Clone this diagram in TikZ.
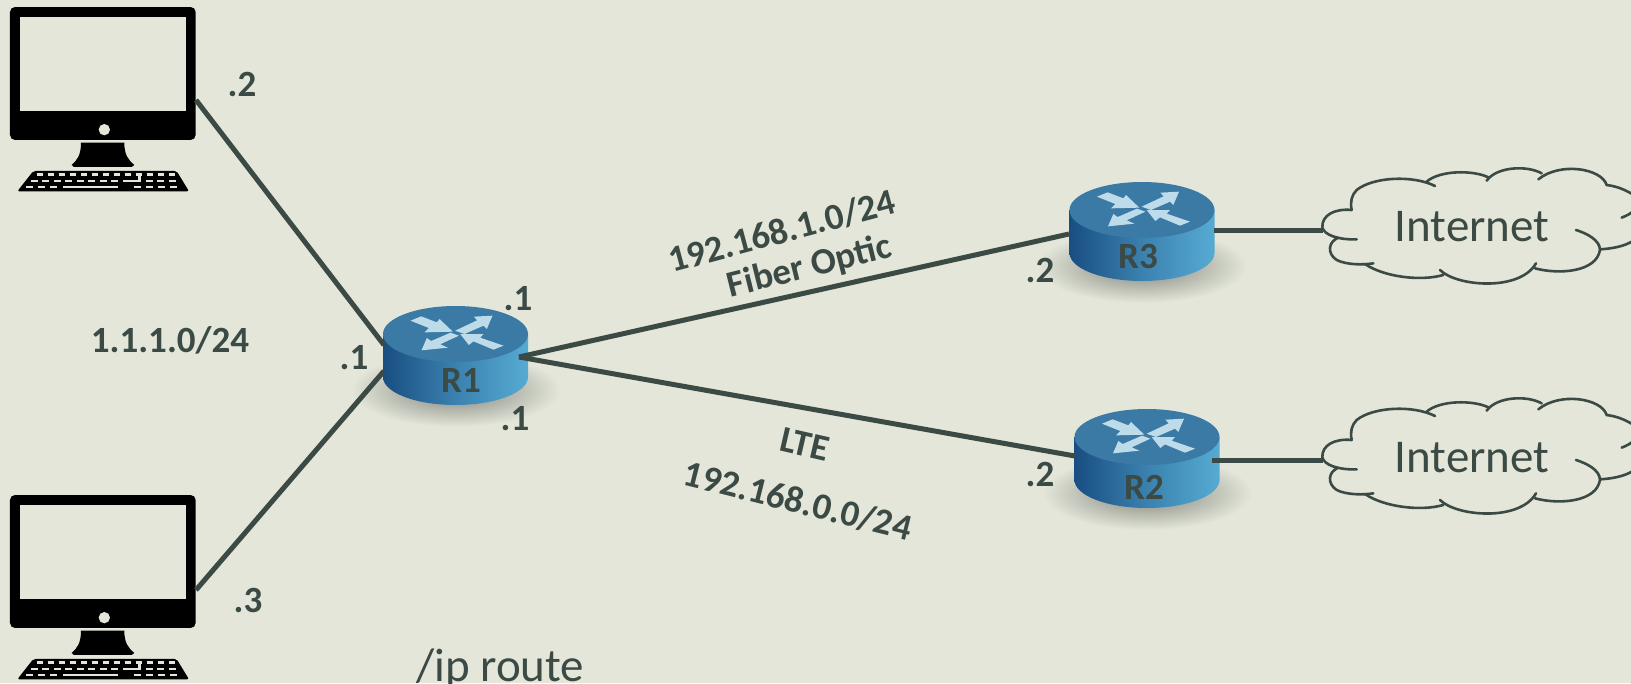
\documentclass[tikz,border=0pt]{standalone}
\usepackage{fontspec}
\setmainfont{Carlito}
\definecolor{bgc}{HTML}{E3E6D9}
\definecolor{inkc}{HTML}{3B4A45}
\definecolor{topc}{HTML}{3B7AA5}
\definecolor{sideL}{HTML}{194E82}
\definecolor{sideR}{HTML}{56ABD3}
\definecolor{arrowc}{HTML}{BEDBEA}
\tikzset{
  wire/.style={draw=inkc,line width=5pt},
  port/.style={inner sep=0pt,outer sep=0pt,minimum size=0pt},
  lbl/.style={text=inkc,font=\fontsize{37}{42}\selectfont\bfseries,inner sep=0pt},
  inet/.style={text=inkc,font=\fontsize{47}{54}\selectfont,inner sep=0pt},
  cloudline/.style={draw=inkc,line width=2.6pt,line cap=round},
  keyline/.style={draw=bgc},
}
\newcommand{\pcicon}[1]{%
\begin{scope}[shift={(0,#1)},x=0.3333pt,y=-0.3333pt]
  \fill[black,rounded corners=5pt] (30,21) rectangle (587,420);
  \fill[bgc] (61,52) rectangle (558,332);
  \fill[bgc] (313,389) circle (17);
  \fill[black] (243,428) -- (373,428) .. controls (373,465) and (385,480) .. (403,495) -- (395,501) -- (222,501) -- (215,495) .. controls (232,480) and (243,465) .. (243,428) -- cycle;
  \fill[black,rounded corners=2pt] (100,513) -- (530,513) -- (567,574) -- (52,574) -- cycle;
  \foreach \k in {0,...,12}{\draw[keyline,line width=2.6pt] ({110+33*\k},524) -- ++(20,0);}
  \foreach \k in {0,...,12}{\draw[keyline,line width=2.6pt] ({93+34.5*\k},543) -- ++(20,0);}
  \foreach \k in {0,1,2,9,10,11,12}{\draw[keyline,line width=2.6pt] ({78+36*\k},561) -- ++(22,0);}
  \draw[keyline,line width=2.6pt] (190,561) -- (355,561);
  \draw[keyline,line width=2.6pt] (375,543) -- (418,543) -- (418,524);
\end{scope}}
\newcommand{\routericon}[2]{%
\begin{scope}[shift={(#1,#2)}]
  \shade[inner color=black!45!bgc,outer color=bgc,draw=none] (0,56) ellipse [x radius=105pt,y radius=37pt];
  \shade[left color=sideL,right color=sideR,middle color=sideL!45!sideR] (-72.5,0) -- (-72.5,43) arc [start angle=180,end angle=360,x radius=72.5pt,y radius=28pt] -- (72.5,0) -- cycle;
  \fill[topc] (0,0) ellipse [x radius=72.5pt,y radius=28pt];
  \begin{scope}[x=0.3333pt,y=-0.3333pt,shift={(-348,-165)}]
    \fill[arrowc] (213,125) -- (245,112) -- (292,130) -- (300,120) -- (340,158) -- (255,160) -- (268,147) -- cycle;
    \fill[arrowc] (459,110) -- (403,113) -- (413,124) -- (347,155) -- (375,165) -- (432,140) -- (442,150) -- cycle;
    \fill[arrowc] (246,214) -- (262,177) -- (275,186) -- (333,161) -- (358,170) -- (302,196) -- (325,206) -- cycle;
    \fill[arrowc] (362,165) -- (432,165) -- (422,176) -- (492,200) -- (462,212) -- (402,187) -- (388,198) -- cycle;
  \end{scope}
\end{scope}}
\newcommand{\cloudicon}[1]{%
\begin{scope}[shift={(1300,#1)},x=0.3333pt,y=-0.3333pt]
  \draw[cloudline] (155,180) .. controls (105,175) and (65,195) .. (67,232) .. controls (72,255) and (115,270) .. (170,268);
  \draw[cloudline] (115,263) .. controls (85,275) and (80,310) .. (110,330) .. controls (140,345) and (190,345) .. (220,340);
  \draw[cloudline] (195,342) .. controls (250,380) and (360,395) .. (430,375);
  \draw[cloudline] (420,360) .. controls (470,410) and (660,425) .. (708,340);
  \draw[cloudline] (705,355) .. controls (780,375) and (890,365) .. (900,300) .. controls (900,270) and (860,250) .. (828,240);
  \draw[cloudline] (900,298) .. controls (950,295) and (985,285) .. (1010,265);
  \draw[cloudline] (965,203) .. controls (980,197) and (995,190) .. (1010,175);
  \draw[cloudline] (920,105) .. controls (960,110) and (985,125) .. (1010,140);
  \draw[cloudline] (920,105) .. controls (905,55) and (780,35) .. (715,88);
  \draw[cloudline] (725,70) .. controls (680,45) and (590,50) .. (560,92);
  \draw[cloudline] (565,82) .. controls (520,60) and (420,60) .. (380,95);
  \draw[cloudline] (405,108) .. controls (340,75) and (220,80) .. (170,120) .. controls (155,135) and (150,155) .. (155,180);
\end{scope}}
\begin{document}
\begin{tikzpicture}[x=1pt,y=-1pt]
  \useasboundingbox (0,0) rectangle (1631,683);
  \clip (0,0) rectangle (1631,683);
  \fill[bgc] (0,0) rectangle (1631,683);
  \pcicon{0}
  \pcicon{488}
  \routericon{455.5}{334}
  \routericon{1142}{210}
  \routericon{1147}{437}
  \cloudicon{150}
  \cloudicon{380}
  % ports
  \node[port] (pc1) at (196,100) {};
  \node[port] (pc2) at (196,590) {};
  \node[port] (r1a) at (384,345) {};
  \node[port] (r1b) at (384,371) {};
  \node[port] (r1c) at (519,357) {};
  \node[port] (r3w) at (1069,234) {};
  \node[port] (r3e) at (1214,230) {};
  \node[port] (r2w) at (1075,456) {};
  \node[port] (r2e) at (1212,460) {};
  \node[port] (c1) at (1323,230) {};
  \node[port] (c2) at (1323,460) {};
  % connectors
  \draw[wire] (pc1) -- (r1a);
  \draw[wire] (pc2) -- (r1b);
  \draw[wire] (r1c) -- (r3w);
  \draw[wire] (r1c) -- (r2w);
  \draw[wire] (r3e) -- (c1);
  \draw[wire] (r2e) -- (c2);
  % labels
  \node[lbl] (a1) at (242,84) {.2};
  \node[lbl] (a2) at (248,600) {.3};
  \node[lbl] (a3) at (170,340) {1.1.1.0/24};
  \node[lbl] (a4) at (354,358) {.1};
  \node[lbl] (a5) at (518,299) {.1};
  \node[lbl] (a6) at (515,419) {.1};
  \node[lbl] (a7) at (1040,270) {.2};
  \node[lbl] (a8) at (1040,474) {.2};
  \node[lbl,rotate=15] (n1) at (782,231) {192.168.1.0/24};
  \node[lbl,rotate=14] (n2) at (810,267) {Fiber Optic};
  \node[lbl,rotate=-13] (n3) at (805,444) {LTE};
  \node[lbl,rotate=-14] (n4) at (798,501) {192.168.0.0/24};
  \node[lbl] (t1) at (461,380) {R1};
  \node[lbl] (t3) at (1138,256) {R3};
  \node[lbl] (t2) at (1144,487) {R2};
  \node[inet] (i1) at (1472,227) {Internet};
  \node[inet] (i2) at (1472,458) {Internet};
  \node[inet,anchor=base west] (cmd) at (416,681) {/ip route};
\end{tikzpicture}
\end{document}
